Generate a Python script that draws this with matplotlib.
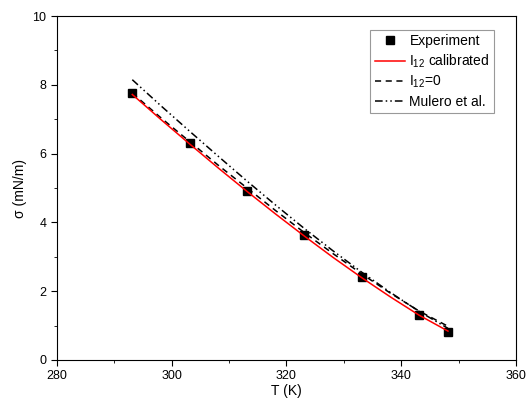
import matplotlib
matplotlib.use("Agg")
import matplotlib.pyplot as plt
from matplotlib.ticker import MultipleLocator

plt.rcParams['font.family'] = ['Liberation Sans', 'DejaVu Sans']
plt.rcParams['mathtext.fontset'] = 'custom'
plt.rcParams['mathtext.rm'] = 'Liberation Sans'
plt.rcParams['mathtext.it'] = 'Liberation Sans'

# experiment
T_exp = [293.15, 303.15, 313.15, 323.15, 333.15, 343.15, 348.15]
sigma_exp = [7.75, 6.30, 4.92, 3.62, 2.42, 1.32, 0.82]

# model curves
T_line = [293.15, 298.15, 303.15, 308.15, 313.15, 318.15, 323.15,
          328.15, 333.15, 338.15, 343.15, 348.15]
sigma_cal = [7.72, 6.99, 6.28, 5.58, 4.90, 4.24, 3.60, 2.98, 2.39, 1.83, 1.30, 0.84]
sigma_zero = [7.76, 7.04, 6.35, 5.66, 5.00, 4.34, 3.70, 3.09, 2.50, 1.94, 1.42, 0.98]
sigma_mulero = [8.15, 7.39, 6.65, 5.92, 5.20, 4.50, 3.82, 3.17, 2.55, 1.96, 1.41, 0.92]

fig = plt.figure(figsize=(5.26, 4.07), dpi=100)
ax = fig.add_axes([0.108, 0.1155, 0.873, 0.845])

ax.plot(T_exp, sigma_exp, 's', color='black', markersize=5.5, label='Experiment', zorder=3)
ax.plot(T_line, sigma_cal, '-', color='red', lw=1.1, label=r'I$_{12}$ calibrated', zorder=4)
ax.plot(T_line, sigma_zero, '--', color='black', lw=1.1, dashes=(4, 3), label=r'I$_{12}$=0')
ax.plot(T_line, sigma_mulero, color='black', lw=1.1, dashes=(5, 2, 1, 2, 1, 2),
        label='Mulero et al.')

ax.set_xlim(280, 360)
ax.set_ylim(0, 10)
ax.xaxis.set_major_locator(MultipleLocator(20))
ax.xaxis.set_minor_locator(MultipleLocator(10))
ax.yaxis.set_major_locator(MultipleLocator(2))
ax.yaxis.set_minor_locator(MultipleLocator(1))
ax.tick_params(which='major', length=4, labelsize=9, direction='out')
ax.tick_params(which='minor', length=2.5, direction='out')
ax.set_xlabel('T (K)', fontsize=10, labelpad=1)
ax.set_ylabel('σ (mN/m)', fontsize=10)

leg = ax.legend(loc='upper right', bbox_to_anchor=(0.952, 0.959), fontsize=10,
                fancybox=False, edgecolor='#999999', framealpha=1,
                handlelength=2.2, handletextpad=0.3, borderpad=0.3,
                labelspacing=0.3, borderaxespad=0)
leg.get_frame().set_linewidth(0.8)

fig.savefig('out.png', dpi=100)
